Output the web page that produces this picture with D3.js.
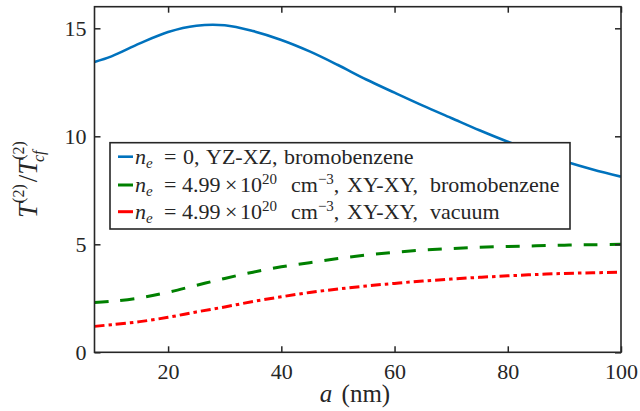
<!DOCTYPE html>
<html>
<head>
<meta charset="utf-8">
<script src="https://cdn.jsdelivr.net/npm/d3@7"></script>
<style>
  html, body { margin: 0; padding: 0; background: #fff; }
  svg { display: block; }
  text { font-family: "Liberation Serif", "Times New Roman", serif; fill: #262626; }
</style>
</head>
<body>
<svg id="chart" width="640" height="411"></svg>
<script>
// ---- data ----
const aValues = [7, 10, 15, 20, 25, 30, 35, 40, 45, 50, 55, 60, 65, 70, 75, 80, 85, 90, 95, 100];
const blueSeries = [13.44, 13.7, 14.3, 14.83, 15.12, 15.14, 14.87, 14.46, 13.93, 13.3, 12.63, 12.02, 11.42, 10.85, 10.28, 9.75, 9.27, 8.84, 8.46, 8.13];
const greenSeries = [2.3, 2.36, 2.52, 2.78, 3.1, 3.42, 3.71, 3.96, 4.15, 4.34, 4.5, 4.63, 4.73, 4.8, 4.86, 4.9, 4.93, 4.96, 4.98, 5.0];
const redSeries = [1.2, 1.28, 1.42, 1.62, 1.87, 2.1, 2.35, 2.57, 2.77, 2.93, 3.07, 3.19, 3.3, 3.39, 3.47, 3.54, 3.6, 3.65, 3.68, 3.71];
const xTicks = [20, 40, 60, 80, 100];
const yTicks = [0, 5, 10, 15];
const xDomain = [7, 100];
const yDomain = [0, 16];

// ---- layout ----
const svg = d3.select("#chart");
const L = 94.5, R = 621, T = 6.7, B = 352.3;
const x = d3.scaleLinear().domain(xDomain).range([L, R]);
const y = d3.scaleLinear().domain(yDomain).range([B, T]);
const axisColor = "#262626";

svg.append("defs").append("clipPath").attr("id", "clip")
  .append("rect").attr("x", L).attr("y", T).attr("width", R - L).attr("height", B - T);

const series = [
  { values: blueSeries, color: "#0072BD", dash: null, width: 2.6 },
  { values: greenSeries, color: "#008000", dash: "14,12", width: 3 },
  { values: redSeries, color: "#FF0000", dash: "10,4,3.5,4", width: 3 }
];

const line = d3.line().x(d => x(d[0])).y(d => y(d[1])).curve(d3.curveCatmullRom.alpha(0.5));
const plotG = svg.append("g").attr("clip-path", "url(#clip)");
series.forEach(s => {
  plotG.append("path")
    .datum(aValues.map((a, i) => [a, s.values[i]]))
    .attr("d", line)
    .attr("fill", "none")
    .attr("stroke", s.color)
    .attr("stroke-width", s.width)
    .attr("stroke-dasharray", s.dash);
});

// ---- axes (box with inward ticks on all sides) ----
const tickLen = 6;
const fontSize = 22;
const axB = svg.append("g").attr("transform", `translate(0,${B})`)
  .call(d3.axisBottom(x).tickValues(xTicks).tickSizeInner(-tickLen).tickSizeOuter(0).tickPadding(11).tickFormat(d3.format("d")));
const axT = svg.append("g").attr("transform", `translate(0,${T})`)
  .call(d3.axisTop(x).tickValues(xTicks).tickSizeInner(-tickLen).tickSizeOuter(0).tickFormat(""));
const axL = svg.append("g").attr("transform", `translate(${L},0)`)
  .call(d3.axisLeft(y).tickValues(yTicks).tickSizeInner(-tickLen).tickSizeOuter(0).tickPadding(8).tickFormat(d3.format("d")));
const axR = svg.append("g").attr("transform", `translate(${R},0)`)
  .call(d3.axisRight(y).tickValues(yTicks).tickSizeInner(-tickLen).tickSizeOuter(0).tickFormat(""));
[axB, axT, axL, axR].forEach(g => {
  g.select(".domain").remove();
  g.selectAll(".tick line").attr("stroke", axisColor).attr("stroke-width", 1.5);
  g.selectAll(".tick text").attr("font-size", fontSize).attr("fill", axisColor)
    .attr("font-family", "'Liberation Serif', serif");
});
svg.append("rect").attr("x", L).attr("y", T).attr("width", R - L).attr("height", B - T)
  .attr("fill", "none").attr("stroke", axisColor).attr("stroke-width", 1.6);

// ---- axis labels ----
const xl = svg.append("text").attr("x", 355).attr("y", 402).attr("text-anchor", "middle")
  .attr("font-size", 25);
xl.append("tspan").attr("font-style", "italic").text("a");
xl.append("tspan").attr("dx", 3).text(" (nm)");

const yl = svg.append("text")
  .attr("transform", `translate(37,${(T + B) / 2}) rotate(-90)`)
  .attr("text-anchor", "middle").attr("font-size", 27);
yl.append("tspan").attr("font-style", "italic").text("T");
yl.append("tspan").attr("font-size", 16).attr("dy", -13).text("(2)");
yl.append("tspan").attr("dy", 13).attr("dx", 2).text("/");
yl.append("tspan").attr("font-style", "italic").text("T");
yl.append("tspan").attr("font-size", 16).attr("dy", -13).text("(2)");
yl.append("tspan").attr("font-size", 16).attr("font-style", "italic").attr("dy", 20).attr("dx", -21).text("cf");

// ---- legend ----
const legX = 110, legY = 142.7, legW = 460, legH = 86.3;
const legend = svg.append("g");
legend.append("rect").attr("x", legX).attr("y", legY).attr("width", legW).attr("height", legH)
  .attr("fill", "#fff").attr("stroke", axisColor).attr("stroke-width", 1.6);
const rowY = [156.7, 185, 211.7];
const legFont = 22, supFont = 15;
series.forEach((s, i) => {
  legend.append("line").attr("x1", 118).attr("x2", 133).attr("y1", rowY[i]).attr("y2", rowY[i])
    .attr("stroke", s.color).attr("stroke-width", s.width);
  const t = legend.append("text").attr("y", rowY[i] + 7).attr("font-size", legFont).attr("fill", "#000");
  t.append("tspan").attr("x", 135).attr("font-style", "italic").text("n");
  t.append("tspan").attr("font-style", "italic").attr("font-size", supFont).attr("dy", 4).text("e");
  t.append("tspan").attr("x", 164).attr("dy", -4).text("=");
  if (i === 0) {
    t.append("tspan").attr("x", 183).text("0,");
    t.append("tspan").attr("x", 206).text("YZ-XZ,");
    t.append("tspan").attr("x", 284).text("bromobenzene");
  } else {
    t.append("tspan").attr("x", 182).text("4.99");
    t.append("tspan").attr("x", 225).text("×");
    t.append("tspan").attr("x", 240).text("10");
    t.append("tspan").attr("font-size", supFont).attr("dy", -8).text("20");
    t.append("tspan").attr("x", 291).attr("dy", 8).text("cm");
    t.append("tspan").attr("font-size", supFont).attr("dy", -8).text("−3");
    t.append("tspan").attr("dy", 8).text(",");
    t.append("tspan").attr("x", 347).text("XY-XY,");
    t.append("tspan").attr("x", 430).text(i === 1 ? "bromobenzene" : "vacuum");
  }
});
</script>
</body>
</html>
